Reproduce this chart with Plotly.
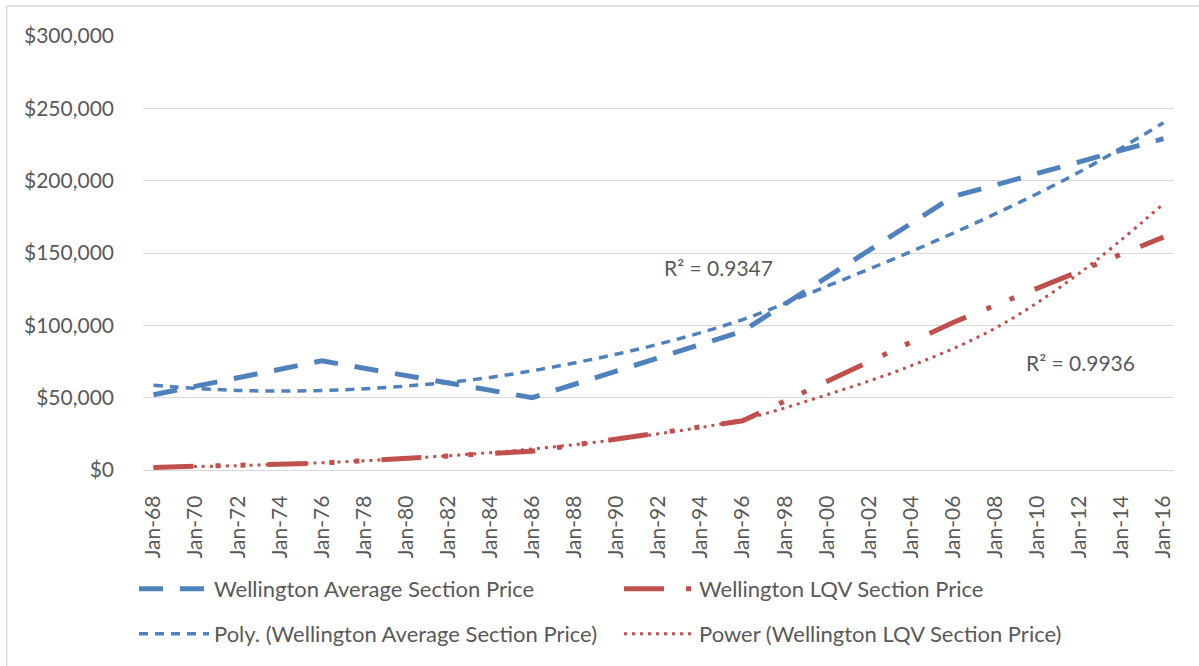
import plotly.graph_objects as go

# Section prices (NZD)
years_avg = [1968, 1976, 1986, 1996, 2006, 2016]
avg_price = [52000, 75500, 50000, 96000, 189000, 229000]

years_lqv = [1968, 1976, 1986, 1996, 2006, 2016]
lqv_price = [1800, 4800, 13000, 34000, 102000, 161000]

# trendlines as drawn on the chart
trend_years = [1968, 1972, 1976, 1980, 1984, 1988, 1992, 1996, 2000, 2004, 2008, 2012, 2016]
poly_trend = [58500, 55000, 55000, 58000, 64000, 74000, 87000, 104000, 127000, 151000, 177000, 206000, 240000]
power_trend = [2000, 3000, 5000, 8000, 12000, 17500, 25000, 35000, 52000, 72000, 98000, 136000, 184000]

label_years = [1968, 1970, 1972, 1974, 1976, 1978, 1980, 1982, 1984, 1986, 1988, 1990, 1992,
               1994, 1996, 1998, 2000, 2002, 2004, 2006, 2008, 2010, 2012, 2014, 2016]
label_text = ["Jan-68", "Jan-70", "Jan-72", "Jan-74", "Jan-76", "Jan-78", "Jan-80", "Jan-82",
              "Jan-84", "Jan-86", "Jan-88", "Jan-90", "Jan-92", "Jan-94", "Jan-96", "Jan-98",
              "Jan-00", "Jan-02", "Jan-04", "Jan-06", "Jan-08", "Jan-10", "Jan-12", "Jan-14", "Jan-16"]

BLUE = "#4F81BD"
RED = "#C0504D"
GREY = "#d9d9d9"
TXT = "#595959"
FONT = "Lato"

W, H = 1199, 666
ML, MR, MT, MB = 143, 25, 36, 195
PW, PH = W - ML - MR, H - MT - MB


def px_x(x):
    return (x - ML) / PW


def px_y(y):
    return (H - MB - y) / PH


fig = go.Figure()

fig.add_trace(go.Scatter(
    x=years_avg, y=avg_price, mode="lines", name="Wellington Average Section Price",
    line=dict(color=BLUE, width=5, dash="24px,17px"), legend="legend"))
fig.add_trace(go.Scatter(
    x=years_lqv, y=lqv_price, mode="lines", name="Wellington LQV Section Price",
    line=dict(color=RED, width=5, dash="40px,22px,5px,20px,5px,22px"), legend="legend"))
fig.add_trace(go.Scatter(
    x=trend_years, y=poly_trend, mode="lines", name="Poly. (Wellington Average Section Price)",
    line=dict(color=BLUE, width=3.5, dash="9px,7px", shape="spline", smoothing=1),
    legend="legend2"))
fig.add_trace(go.Scatter(
    x=trend_years, y=power_trend, mode="lines", name="Power (Wellington LQV Section Price)",
    line=dict(color=RED, width=3, dash="3px,5px", shape="spline", smoothing=1),
    legend="legend2"))

legend_style = dict(
    orientation="h", xanchor="left", yanchor="middle",
    font=dict(family=FONT, size=22, color=TXT),
    bgcolor="rgba(0,0,0,0)", itemwidth=70,
    entrywidth=400, entrywidthmode="pixels",
    itemclick=False, itemdoubleclick=False,
)

fig.update_layout(
    width=W, height=H,
    template="none",
    margin=dict(l=ML, r=MR, t=MT, b=MB),
    paper_bgcolor="white", plot_bgcolor="white",
    font=dict(family=FONT, size=21, color=TXT),
    legend=dict(legend_style, x=px_x(134), y=px_y(589)),
    legend2=dict(legend_style, x=px_x(134), y=px_y(634)),
    xaxis=dict(
        range=[1967.5, 2016.5], tickvals=label_years, ticktext=label_text,
        tickangle=-90, ticks="", showgrid=False, zeroline=False,
        showline=True, linecolor=GREY, linewidth=1.3,
        tickfont=dict(family=FONT, size=21, color=TXT), ticklabelstandoff=16,
    ),
    xaxis2=dict(
        overlaying="x", anchor="y", side="bottom", range=[1967.5, 2016.5],
        tickvals=[y - 0.5 for y in label_years], ticks="outside", ticklen=7,
        tickcolor=GREY, tickwidth=1.3, showticklabels=False,
        showgrid=False, zeroline=False, showline=False,
    ),
    yaxis=dict(
        range=[0, 300000], dtick=50000, tickprefix="$", tickformat=",d",
        showgrid=True, gridcolor=GREY, gridwidth=1.3, zeroline=False,
        showline=False, ticks="", ticklabelstandoff=28,
        tickfont=dict(family=FONT, size=21, color=TXT),
    ),
    annotations=[
        dict(text="R² = 0.9347", x=px_x(718), y=px_y(268), xref="paper", yref="paper",
             xanchor="center", yanchor="middle", showarrow=False,
             font=dict(family=FONT, size=21, color=TXT)),
        dict(text="R² = 0.9936", x=px_x(1080), y=px_y(363), xref="paper", yref="paper",
             xanchor="center", yanchor="middle", showarrow=False,
             font=dict(family=FONT, size=21, color=TXT)),
    ],
    shapes=[
        dict(type="line", xref="paper", yref="paper", x0=px_x(6.7), x1=px_x(6.7),
             y0=px_y(6), y1=px_y(H + 2), line=dict(color=GREY, width=1.5)),
        dict(type="line", xref="paper", yref="paper", x0=px_x(6.7), x1=px_x(W + 2),
             y0=px_y(6), y1=px_y(6), line=dict(color=GREY, width=1.5)),
    ],
)

# the page's default body margin would push the chart 8px right and down
fig.write_html("out.html", config={"displayModeBar": False},
               post_script="document.body.style.margin='0';")
